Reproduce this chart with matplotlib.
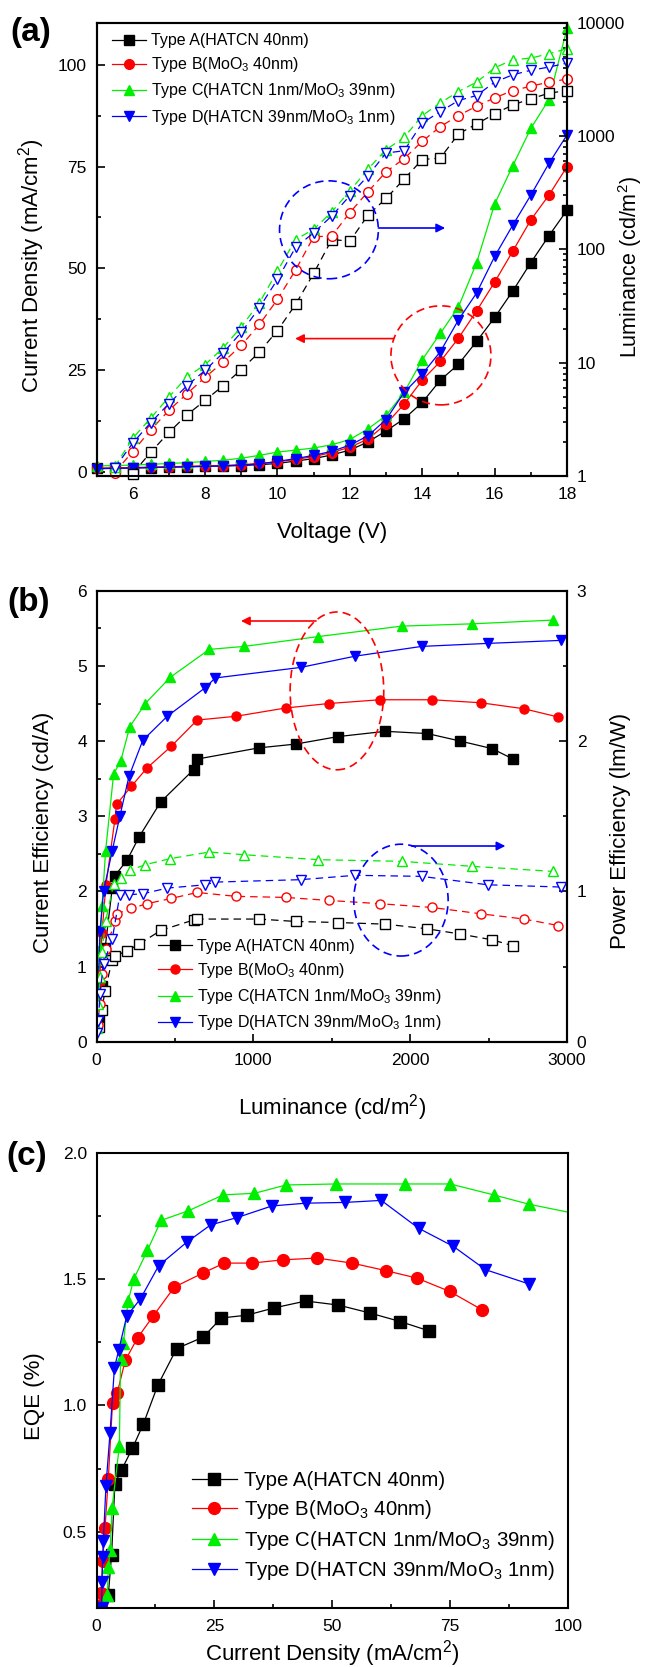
import matplotlib
matplotlib.use('Agg')
import matplotlib.pyplot as plt
import numpy as np
from matplotlib.patches import Ellipse
from matplotlib.ticker import MultipleLocator, FixedLocator, LogLocator, NullFormatter, FuncFormatter

plt.rcParams['font.family'] = ['Liberation Sans', 'DejaVu Sans']
plt.rcParams['mathtext.default'] = 'regular'

# ---- common ----
names = ['Type A(HATCN 40nm)', 'Type B(MoO$_3$ 40nm)',
         'Type C(HATCN 1nm/MoO$_3$ 39nm)', 'Type D(HATCN 39nm/MoO$_3$ 1nm)']
colors = ['#000000', '#ff0000', '#00ee00', '#0000ff']
markers = ['s', 'o', '^', 'v']

# ---- (a) J-V-L ----
voltage = [5.0, 5.5, 6.0, 6.5, 7.0, 7.5, 8.0, 8.5, 9.0, 9.5, 10.0, 10.5, 11.0, 11.5,
           12.0, 12.5, 13.0, 13.5, 14.0, 14.5, 15.0, 15.5, 16.0, 16.5, 17.0, 17.5, 18.0]
j_a = [0.8, 0.85, 0.9, 1.0, 1.1, 1.2, 1.3, 1.4, 1.5, 1.7, 2.0, 2.6, 3.2, 4.1,
       5.3, 7.3, 10.0, 13.0, 17.0, 22.5, 26.4, 32.0, 37.9, 44.4, 51.4, 58.0, 64.3]
j_b = [0.8, 0.9, 1.0, 1.1, 1.2, 1.3, 1.4, 1.5, 1.7, 2.0, 2.4, 3.0, 3.7, 4.7,
       6.0, 8.0, 11.7, 16.6, 22.5, 27.1, 32.8, 39.5, 46.6, 54.2, 61.9, 68.0, 75.0]
j_c = [1.4, 1.5, 1.6, 1.8, 2.0, 2.2, 2.5, 2.8, 3.3, 4.0, 4.8, 5.3, 5.8, 6.6,
       7.9, 10.5, 13.8, 19.5, 27.5, 34.0, 40.5, 51.3, 65.8, 75.2, 84.4, 91.5, 109.0]
j_d = [0.7, 0.8, 0.9, 1.0, 1.1, 1.2, 1.3, 1.4, 1.6, 1.9, 2.5, 3.2, 4.0, 5.0,
       6.5, 8.8, 12.8, 19.5, 24.0, 29.5, 37.3, 43.9, 52.9, 60.6, 68.0, 75.8, 82.8]
nan = np.nan
lum_a = [nan, nan, 1.05, 1.62, 2.42, 3.46, 4.64, 6.26, 8.67, 12.4, 19.2, 32.6, 61.3, 122,
         118, 200, 281, 417, 620, 639, 1042, 1277, 1566, 1881, 2126, 2387, 2515]
lum_b = [nan, 1.07, 1.64, 2.55, 3.79, 5.32, 7.42, 10.1, 14.2, 21.7, 36.1, 65.6, 129, 131,
         211, 322, 483, 632, 897, 1210, 1514, 1832, 2170, 2515, 2750, 2985, 3180]
lum_c = [nan, 1.2, 2.15, 3.24, 4.97, 7.47, 9.6, 13.5, 20.7, 33.7, 64.3, 122, 150, 214,
         328, 510, 757, 973, 1514, 1960, 2467, 2985, 3990, 4710, 4870, 5317, 5890]
lum_d = [nan, 1.17, 1.95, 2.96, 4.34, 6.26, 8.55, 12.2, 18.5, 30.5, 54.3, 104, 140, 197,
         297, 446, 707, 741, 1303, 1641, 2055, 2275, 2985, 3467, 3800, 4055, 4400]

# ---- (b) CE / PE vs luminance ----
b_lum_a = [18, 33, 55, 100, 118, 196, 273, 409, 619, 640, 1035, 1269, 1540, 1842, 2110, 2320, 2522, 2657]
ce_a = [0.33, 0.74, 1.25, 2.04, 2.21, 2.42, 2.73, 3.19, 3.62, 3.76, 3.91, 3.96, 4.06, 4.13, 4.10, 4.00, 3.90, 3.76]
pe_a = [0.10, 0.21, 0.34, 0.545, 0.571, 0.605, 0.65, 0.74, 0.81, 0.816, 0.816, 0.80, 0.793, 0.782, 0.751, 0.716, 0.678, 0.638]
b_lum_b = [10, 20, 35, 60, 118, 128, 223, 321, 476, 642, 889, 1205, 1481, 1808, 2140, 2450, 2726, 2944]
ce_b = [0.35, 0.8, 1.45, 2.08, 2.97, 3.16, 3.40, 3.64, 3.93, 4.28, 4.33, 4.44, 4.50, 4.55, 4.55, 4.51, 4.43, 4.32]
pe_b = [0.11, 0.25, 0.45, 0.62, 0.80, 0.85, 0.887, 0.918, 0.953, 0.993, 0.967, 0.96, 0.94, 0.918, 0.893, 0.851, 0.816, 0.773]
b_lum_c = [5, 12, 22, 35, 58, 109, 155, 212, 311, 471, 719, 942, 1412, 1946, 2392, 2909]
ce_c = [0.25, 0.7, 1.25, 1.8, 2.54, 3.56, 3.74, 4.19, 4.50, 4.85, 5.22, 5.26, 5.39, 5.53, 5.56, 5.61]
pe_c = [0.09, 0.25, 0.43, 0.6, 0.8, 1.05, 1.09, 1.14, 1.178, 1.218, 1.262, 1.244, 1.211, 1.20, 1.167, 1.133]
b_lum_d = [5, 12, 22, 45, 100, 149, 207, 295, 451, 693, 757, 1301, 1649, 2073, 2495, 2963]
ce_d = [0.3, 0.8, 1.47, 2.0, 2.54, 3.0, 3.53, 4.01, 4.33, 4.71, 4.84, 4.98, 5.13, 5.26, 5.30, 5.34]
pe_d = [0.06, 0.14, 0.32, 0.52, 0.68, 0.978, 0.978, 0.984, 1.022, 1.044, 1.062, 1.078, 1.107, 1.10, 1.044, 1.029]

# ---- (c) EQE vs current density ----
c_j_a = [2.5, 3.2, 3.9, 5.3, 7.6, 9.9, 13.0, 17.0, 22.6, 26.5, 31.9, 37.7, 44.4, 51.3, 57.9, 64.4, 70.5]
eqe_a = [0.25, 0.41, 0.69, 0.745, 0.83, 0.925, 1.08, 1.225, 1.27, 1.346, 1.357, 1.386, 1.413, 1.397, 1.366, 1.332, 1.295]
c_j_b = [0.9, 1.0, 1.3, 1.8, 2.5, 3.4, 4.4, 6.1, 8.7, 12.0, 16.5, 22.6, 27.1, 32.9, 39.6, 46.8, 54.2, 61.4, 67.9, 74.9, 81.7]
eqe_b = [0.21, 0.26, 0.385, 0.515, 0.71, 1.01, 1.05, 1.178, 1.267, 1.353, 1.468, 1.524, 1.563, 1.563, 1.576, 1.583,
         1.563, 1.533, 1.504, 1.451, 1.379]
c_j_c = [2.3, 2.5, 2.9, 3.3, 4.85, 5.1, 5.7, 6.7, 7.9, 10.8, 13.7, 19.5, 26.9, 33.5, 40.2, 50.8, 65.5, 75.0, 84.2, 91.7, 102]
eqe_c = [0.25, 0.36, 0.43, 0.595, 0.84, 1.184, 1.247, 1.412, 1.50, 1.613, 1.732, 1.77, 1.833, 1.839, 1.872, 1.876,
         1.876, 1.876, 1.833, 1.796, 1.757]
c_j_d = [1.1, 1.17, 1.3, 1.45, 2.0, 2.86, 3.8, 4.7, 6.4, 9.3, 13.2, 19.1, 24.2, 29.8, 37.2, 44.4, 52.7, 60.4, 68.3,
         75.7, 82.5, 91.8]
eqe_d = [0.2, 0.303, 0.40, 0.465, 0.68, 0.89, 1.149, 1.218, 1.353, 1.421, 1.553, 1.645, 1.714, 1.743, 1.789, 1.80,
         1.803, 1.811, 1.701, 1.629, 1.537, 1.48]


def curve(ax, x, y, i, filled, ms, clip=True):
    ax.plot(x, y, color=colors[i], marker=markers[i], ms=ms, lw=0.9,
            mfc=colors[i] if filled else 'white', mec=colors[i], mew=1.0,
            ls='-' if filled else (0, (6, 4)), clip_on=clip, label=names[i])


def style(ax, right=False):
    for s in ax.spines.values():
        s.set_linewidth(1.5)
    ax.tick_params(which='both', direction='in', top=False, right=right, left=not right,
                   labelsize=12.5, width=1.2)
    ax.tick_params(axis='x', which='both', pad=8)
    ax.tick_params(axis='y', which='both', pad=7)
    ax.tick_params(which='major', length=5.5)
    ax.tick_params(which='minor', length=3)


def legend(ax, anchor, fs, hl, sp):
    leg = ax.legend(loc='upper left', bbox_to_anchor=anchor, frameon=False, fontsize=fs,
                    handlelength=hl, handletextpad=0.35, labelspacing=sp,
                    borderpad=0, borderaxespad=0)
    return leg


def ell(ax, cx, cy, w, h, c):
    ax.add_patch(Ellipse((cx, cy), w, h, transform=ax.transAxes, fill=False,
                         ec=c, lw=1.2, ls=(0, (5, 3)), zorder=5, clip_on=False))


def arrow(ax, x0, x1, y, c):
    ax.annotate('', xy=(x1, y), xytext=(x0, y), xycoords='axes fraction',
                arrowprops=dict(arrowstyle='-|>', color=c, lw=1.2, mutation_scale=13,
                                shrinkA=0, shrinkB=0), zorder=6)


fig = plt.figure(figsize=(6.49, 16.67), dpi=100)

# ================= (a) =================
ax = fig.add_axes([0.1487, 0.7145, 0.725, 0.2719])
ax2 = ax.twinx()
for i, jj in enumerate([j_a, j_b, j_c, j_d]):
    curve(ax, voltage, jj, i, True, 7, clip=False)
for i, ll in enumerate([lum_a, lum_b, lum_c, lum_d]):
    curve(ax2, voltage, ll, i, False, 7, clip=False)
ax.set_xlim(5, 18)
ax.set_ylim(-1.06, 110.4)
ax2.set_yscale('log')
ax2.set_ylim(1, 10000)
ax.xaxis.set_major_locator(FixedLocator([6, 8, 10, 12, 14, 16, 18]))
ax.xaxis.set_minor_locator(MultipleLocator(1))
ax.yaxis.set_major_locator(FixedLocator([0, 25, 50, 75, 100]))
ax.yaxis.set_minor_locator(MultipleLocator(12.5))
ax2.yaxis.set_major_locator(FixedLocator([1, 10, 100, 1000, 10000]))
ax2.yaxis.set_minor_locator(LogLocator(base=10, subs=np.arange(2, 10)))
ax2.yaxis.set_minor_formatter(NullFormatter())
ax2.yaxis.set_major_formatter(FuncFormatter(lambda v, p: '%d' % round(v)))
style(ax)
style(ax2, right=True)
ax.set_xlabel('Voltage (V)', fontsize=16)
ax.xaxis.set_label_coords(0.5, -0.102)
ax.set_ylabel('Current Density (mA/cm$^2$)', fontsize=16)
ax.yaxis.set_label_coords(-0.105, 0.464)
ax2.set_ylabel('Luminance (cd/m$^2$)', fontsize=15.5)
ax2.yaxis.set_label_coords(1.104, 0.46)
legend(ax, (0.033, 0.977), 11.5, 2.1, 0.45)
ell(ax2, 0.494, 0.543, 0.210, 0.216, '#0000ff')
arrow(ax2, 0.599, 0.741, 0.547, '#0000ff')
ell(ax2, 0.732, 0.266, 0.2125, 0.2185, '#ff0000')
arrow(ax2, 0.632, 0.422, 0.303, '#ff0000')

# ================= (b) =================
bx = fig.add_axes([0.1487, 0.3751, 0.725, 0.2705])
bx2 = bx.twinx()
for i, (xx, yy) in enumerate([(b_lum_a, ce_a), (b_lum_b, ce_b), (b_lum_c, ce_c), (b_lum_d, ce_d)]):
    curve(bx, xx, yy, i, True, 6.5)
for i, (xx, yy) in enumerate([(b_lum_a, pe_a), (b_lum_b, pe_b), (b_lum_c, pe_c), (b_lum_d, pe_d)]):
    curve(bx2, xx, yy, i, False, 6.5)
bx.set_xlim(0, 3000)
bx.set_ylim(0, 6)
bx2.set_ylim(0, 3)
bx.xaxis.set_major_locator(MultipleLocator(1000))
bx.xaxis.set_minor_locator(MultipleLocator(500))
bx.yaxis.set_major_locator(MultipleLocator(1))
bx.yaxis.set_minor_locator(MultipleLocator(0.5))
bx2.yaxis.set_major_locator(MultipleLocator(1))
bx2.yaxis.set_minor_locator(MultipleLocator(0.5))
style(bx)
style(bx2, right=True)
bx.set_xlabel('Luminance (cd/m$^2$)', fontsize=16)
bx.xaxis.set_label_coords(0.5, -0.111)
bx.set_ylabel('Current Efficiency (cd/A)', fontsize=16)
bx.yaxis.set_label_coords(-0.09, 0.465)
bx2.set_ylabel('Power Efficiency (lm/W)', fontsize=16)
bx2.yaxis.set_label_coords(1.092, 0.468)
legend(bx, (0.131, 0.228), 11.5, 2.1, 0.45)
ell(bx2, 0.511, 0.778, 0.199, 0.350, '#ff0000')
arrow(bx2, 0.4665, 0.307, 0.933, '#ff0000')
ell(bx2, 0.647, 0.314, 0.2006, 0.248, '#0000ff')
arrow(bx2, 0.670, 0.869, 0.434, '#0000ff')

# ================= (c) =================
cx = fig.add_axes([0.1487, 0.03557, 0.7265, 0.273])
for i, (xx, yy) in enumerate([(c_j_a, eqe_a), (c_j_b, eqe_b), (c_j_c, eqe_c), (c_j_d, eqe_d)]):
    curve(cx, xx, yy, i, True, 8.5)
cx.set_xlim(0, 100)
cx.set_ylim(0.2, 2.0)
cx.xaxis.set_major_locator(MultipleLocator(25))
cx.xaxis.set_minor_locator(MultipleLocator(12.5))
cx.yaxis.set_major_locator(FixedLocator([0.5, 1.0, 1.5, 2.0]))
cx.yaxis.set_minor_locator(FixedLocator([0.25, 0.75, 1.25, 1.75]))
cx.yaxis.set_major_formatter(FuncFormatter(lambda v, p: '%.1f' % v))
style(cx)
cx.set_xlabel('Current Density (mA/cm$^2$)', fontsize=16)
cx.xaxis.set_label_coords(0.5, -0.066)
cx.set_ylabel('EQE (%)', fontsize=16)
cx.yaxis.set_label_coords(-0.109, 0.465)
legend(cx, (0.2025, 0.300), 14.7, 2.2, 0.38)

# panel labels
fig.text(0.0154, 1 - 33 / 1667, '(a)', fontsize=24, fontweight='bold', ha='left', va='center')
fig.text(0.0115, 1 - 603 / 1667, '(b)', fontsize=24, fontweight='bold', ha='left', va='center')
fig.text(0.0092, 1 - 1156 / 1667, '(c)', fontsize=24, fontweight='bold', ha='left', va='center')

fig.savefig('out.png', dpi=100)
